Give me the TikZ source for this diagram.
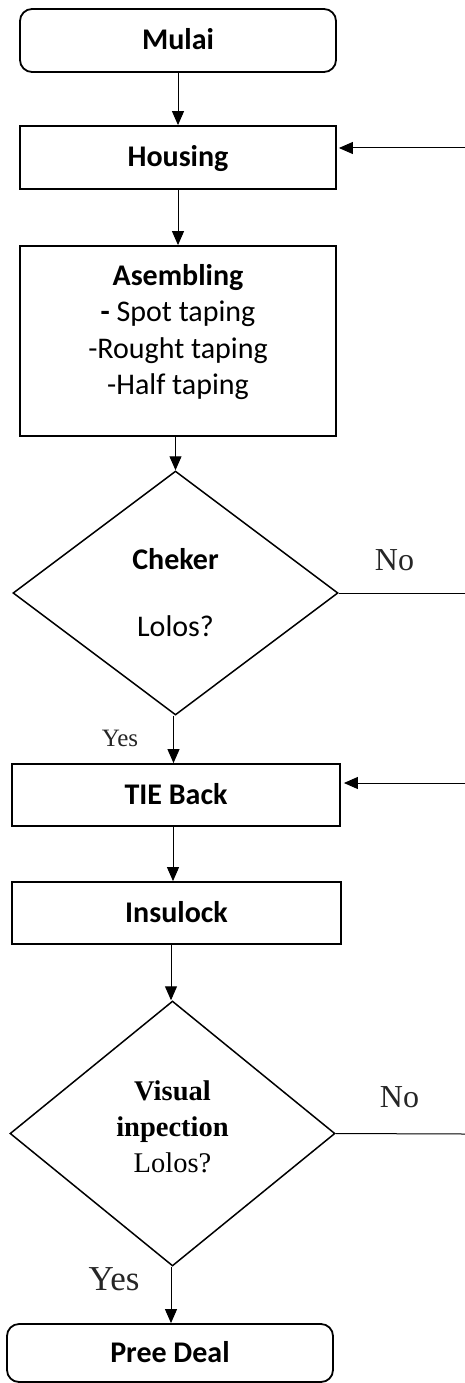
\documentclass[tikz,border=0pt]{standalone}
\usepackage{fontspec}
\setmainfont{Carlito}
\newfontfamily\tms{Liberation Serif}
\usetikzlibrary{shapes.geometric,arrows.meta}
\begin{document}
\begin{tikzpicture}[x=1pt,y=-1pt,
  box/.style={draw, line width=1.8pt, inner sep=0pt, font=\fontsize{30}{36.5}\selectfont},
  onel/.style={box, minimum height=63pt, text height=19pt, text depth=0pt, font=\fontsize{30}{34}\selectfont\bfseries},
  rbox/.style={onel, rounded corners=12pt},
  dec/.style={draw, diamond, line width=1.5pt, inner sep=0pt, align=center, minimum width=325pt},
  arr/.style={-{Triangle[width=12pt,length=14pt]}, line width=1pt},
  lbl/.style={inner sep=0pt, text=black!85}]
\useasboundingbox (0,0) rectangle (465,1383);

% nodes
\node[rbox, minimum width=316pt] (mulai) at (178,40.5) {Mulai};
\node[onel, minimum width=316pt] (housing) at (178,157.5) {Housing};
\node[box, minimum width=316pt, minimum height=190pt, align=center] (asm) at (178,341)
  {\textbf{Asembling}\\\textbf{-} Spot taping\\-Rought taping\\-Half taping\\[-13pt]\mbox{}};
\node[dec, minimum height=244pt, font=\fontsize{30}{36}\selectfont] (cheker) at (175.5,593)
  {\textbf{Cheker}\\[31pt]Lolos?};
\node[onel, minimum width=328pt, minimum height=62pt] (tie) at (176,795) {TIE Back};
\node[onel, minimum width=329pt, minimum height=62pt] (insulock) at (176.5,913) {Insulock};
\node[dec, minimum height=265pt, font=\tms\fontsize{28.5}{36}\selectfont] (visual) at (172.5,1133.5)
  {\textbf{Visual}\\\textbf{inpection}\\Lolos?\\[-22pt]\mbox{}};
\node[rbox, minimum width=326pt, minimum height=58pt] (pree) at (170,1353) {Pree Deal};

% labels
\node[lbl, font=\tms\fontsize{32}{36}\selectfont] (no1) at (394.5,560) {No};
\node[lbl, font=\tms\fontsize{32}{36}\selectfont] (no2) at (399.5,1097) {No};
\node[lbl, font=\tms\fontsize{25}{30}\selectfont] (yes1) at (120,738) {Yes};
\node[lbl, font=\tms\fontsize{35}{40}\selectfont] (yes2) at (114,1279) {Yes};

% free ends on the right
\coordinate (in1) at (465,148);
\coordinate (out1) at (465,593);
\coordinate (in2) at (465,783);
\coordinate (out2) at (465,1134);

% connectors
\draw[arr] (mulai.south) -- (housing.north);
\draw[arr] (housing.south) -- (asm.north -| housing.south);
\draw[arr] (asm.south -| cheker.north) -- (cheker.north);
\draw[arr] ([xshift=-2pt]cheker.south) -- ([xshift=-2pt]cheker.south |- tie.north);
\draw[arr] ([xshift=-3pt]tie.south) -- ([xshift=-3pt]tie.south |- insulock.north);
\draw[arr] ([xshift=-1.5pt]visual.north |- insulock.south) -- ([xshift=-1.5pt]visual.north);
\draw[arr] ([xshift=-1.5pt]visual.south) -- ([xshift=-1.5pt]visual.south |- pree.north);
\draw[arr, shorten >=2pt] (in1) -- (in1 -| housing.east);
\draw[arr, shorten >=3pt] (in2) -- (in2 -| tie.east);
\draw[line width=1pt] (cheker.east) -- (out1);
\draw[line width=1pt] (visual.east) -- (out2);
\end{tikzpicture}
\end{document}
